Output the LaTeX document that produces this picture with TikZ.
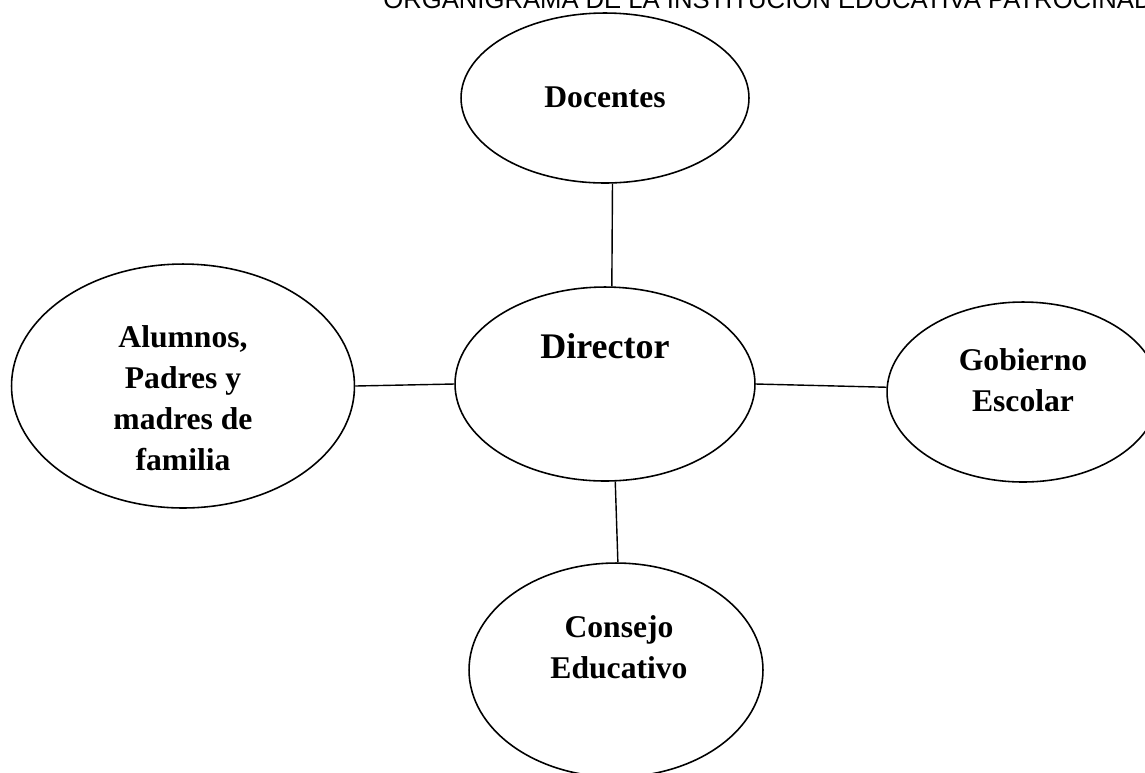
\documentclass[tikz,border=0pt]{standalone}
\usepackage{fontspec}
\setmainfont{Liberation Serif}
\newfontfamily\titlefont{Liberation Sans}
\usetikzlibrary{shapes.geometric}
\def\px{0.02}

\begin{document}
\begin{tikzpicture}[x=\px cm, y=-\px cm,
    bubble/.style={draw, ellipse, line width=0.9pt, inner sep=0pt},
    bubtext/.style={align=center, inner sep=0pt, font=\bfseries\fontsize{18}{23.3}\selectfont},
    link/.style={line width=0.8pt}]
      \useasboundingbox (0,0) rectangle (1145,772);
      \clip (0,0) rectangle (1145,772);
      \node[anchor=base west, inner sep=0pt, font=\titlefont\fontsize{14.6}{16}\selectfont] (titulo) at (383,8) {ORGANIGRAMA DE LA INSTITUCIÓN EDUCATIVA PATROCINADA};
      \node[bubble, minimum width=5.76cm, minimum height=3.4cm] (doc) at (605,98) {};
      \node[bubble, minimum width=6.0cm, minimum height=3.88cm] (dir) at (605,384) {};
      \node[bubble, minimum width=6.86cm, minimum height=4.88cm] (alu) at (183,386) {};
      \node[bubble, minimum width=5.44cm, minimum height=3.6cm] (gob) at (1023,392) {};
      \node[bubble, minimum width=5.88cm, minimum height=4.28cm] (con) at (616,670) {};
      \node[bubtext] (tdoc) at (605,97) {Docentes};
      \node[bubtext, font=\bfseries\fontsize{20.5}{24}\selectfont] (tdir) at (605,346) {Director};
      \node[bubtext] (talu) at (183,398) {Alumnos,\\Padres y\\madres de\\familia};
      \node[bubtext] (tgob) at (1023,380) {Gobierno\\Escolar};
      \node[bubtext] (tcon) at (619,647) {Consejo\\Educativo};
      \draw[link] (doc.-85) -- (dir.86);
      \draw[link] (dir.west) -- (alu.east);
      \draw[link] (dir.east) -- (gob.178);
      \draw[link] (dir.-84) -- (con.89);
\end{tikzpicture}
\end{document}
